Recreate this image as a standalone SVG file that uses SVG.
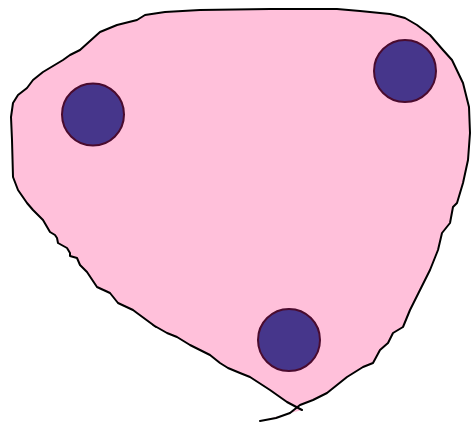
<svg xmlns="http://www.w3.org/2000/svg" width="471" height="423" viewBox="0 0 471 423">
<style>
.blob{fill:#ffc0da;stroke:#000;stroke-width:2;stroke-linejoin:round;stroke-linecap:round}
.node{fill:#46368b;stroke:#4a0b2e;stroke-width:2}
</style>
<rect width="471" height="423" fill="#fff"/>
<g id="blob">
<path class="blob" d="M302,410 L287,402 L270,390 L250,377 L240,373 L228,368 L220,363 L210,355 L190,345 L177,337 L167,333 L153,325 L156,327 L137,313 L133,310 L118,303 L110,293 L97,287 L87,272 L80,265 L77,258 L70,256 L70,253 L67,248 L58,243 L57,238 L55,235 L50,232 L43,220 L33,210 L27,203 L18,190 L13,177 L12,140 L11,117 L13,103 L18,95 L27,88 L33,80 L43,72 L63,60 L70,55 L80,50 L100,32 L117,25 L137,20 L145,15 L165,12 L200,10 L270,9 L337,9 L360,11 L390,14 L405,18 L417,25 L430,35 L443,50 L452,60 L463,83 L469,107 L470,133 L468,160 L463,183 L457,203 L453,207 L450,223 L442,233 L438,250 L430,270 L420,290 L410,310 L403,327 L393,333 L388,343 L380,350 L373,363 L363,367 L347,377 L327,393 L313,400 L300,405 L290,413 L276,418 L260,421"/>
</g>
<g id="connectors"></g>
<g id="n1"><circle class="node" cx="93" cy="114.5" r="31"/></g>
<g id="n2"><circle class="node" cx="405" cy="71" r="31"/></g>
<g id="n3"><circle class="node" cx="289" cy="340" r="31"/></g>
</svg>
